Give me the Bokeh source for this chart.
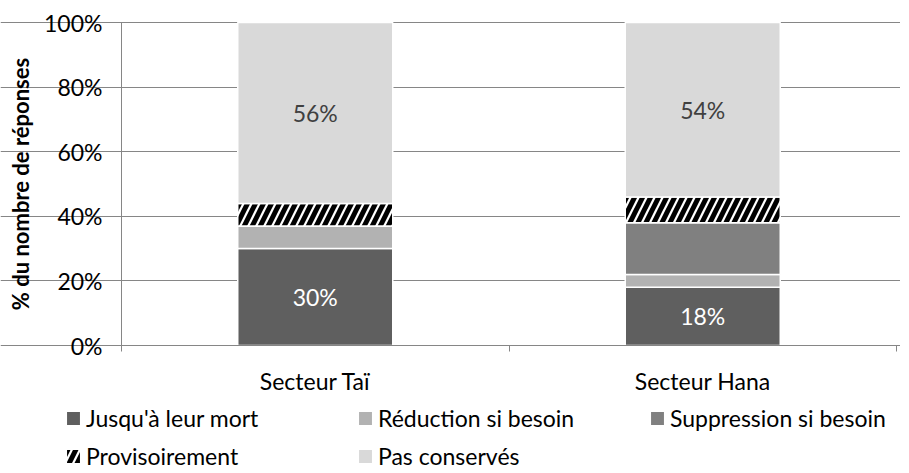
from bokeh.plotting import figure
from bokeh.models import (ColumnDataSource, FixedTicker, NumeralTickFormatter, Range1d,
                          Legend, LegendItem, LinearAxis, Grid)
from bokeh.core.properties import value
from bokeh.embed import file_html
from bokeh.resources import INLINE

categories = ["Secteur Taï", "Secteur Hana"]
series = ["Jusqu'à leur mort", "Réduction si besoin", "Suppression si besoin",
          "Provisoirement", "Pas conservés"]
jusqua = [30, 18]
reduction = [7, 4]
suppression = [0, 16]
provisoire = [7, 8]
pas_conserves = [56, 54]
tick_vals = [0, 0.2, 0.4, 0.6, 0.8, 1.0]

values = [jusqua, reduction, suppression, provisoire, pas_conserves]
colors = ["#5f5f5f", "#b2b2b2", "#808080", "#ffffff", "#d9d9d9"]
hatches = [" ", " ", " ", "/", " "]

FONT = "Lato"
FS = "23px"
ncat = len(categories)
xpos = [i + 0.5 for i in range(ncat)]

# layout (pixels inside the figure): plot area and canvas size
W, H = 900, 469
left_px, right_px, top_px, bottom_px = 121, 896, 22, 345
xs = (right_px - left_px) / ncat
ys = (bottom_px - top_px) / 1.0
x_range = Range1d(-left_px / xs, ncat + (W - right_px) / xs)
y_range = Range1d(-(H - bottom_px) / ys, 1 + top_px / ys)

p = figure(width=W, height=H, output_backend="svg", toolbar_location=None,
           x_range=x_range, y_range=y_range, x_axis_type=None, y_axis_type=None)
p.min_border = 0
p.min_border_left = p.min_border_right = p.min_border_top = p.min_border_bottom = 0
p.outline_line_color = None

p.add_layout(Grid(dimension=1, ticker=FixedTicker(ticks=tick_vals), bounds=(0, ncat),
                  grid_line_color="#868686", grid_line_width=1), "center")

bar_style = dict(line_color="white", line_width=1.5, hatch_color="black",
                 hatch_scale=16, hatch_weight=5)

bottoms = [0.0] * ncat
renderers = []
for name, vals, col, hatch in zip(series, values, colors, hatches):
    tops = [b + v / 100 for b, v in zip(bottoms, vals)]
    src = ColumnDataSource(dict(x=xpos, bottom=list(bottoms), top=tops))
    r = p.vbar(x="x", bottom="bottom", top="top", width=0.4, source=src,
               fill_color=col, hatch_pattern=hatch, **bar_style)
    renderers.append(r)
    bottoms = tops

# data labels
lab_x, lab_y, lab_t, lab_c = [], [], [], []
bottoms = [0.0] * ncat
for si, vals in enumerate(values):
    for ci, v in enumerate(vals):
        if si in (0, 4):
            lab_x.append(xpos[ci])
            lab_y.append(bottoms[ci] + v / 200)
            lab_t.append(f"{v}%")
            lab_c.append("white" if si == 0 else "#404040")
    bottoms = [b + v / 100 for b, v in zip(bottoms, vals)]
p.text(x=lab_x, y=lab_y, text=lab_t, text_color=lab_c, text_align="center",
       text_baseline="middle", text_font=value(FONT), text_font_size=FS)

# axes, pinned at the data origin
yaxis = LinearAxis(fixed_location=0, bounds=(0, 1), ticker=FixedTicker(ticks=tick_vals),
                   formatter=NumeralTickFormatter(format="0%"))
yaxis.axis_label = "% du nombre de réponses"
yaxis.axis_label_text_font = FONT
yaxis.axis_label_text_font_style = "bold"
yaxis.axis_label_text_font_size = "22px"
yaxis.axis_label_text_color = "black"
yaxis.axis_label_standoff = 7
yaxis.major_label_text_font = FONT
yaxis.major_label_text_font_size = FS
yaxis.major_label_text_color = "black"
yaxis.major_label_standoff = 13
yaxis.axis_line_color = "#868686"
yaxis.major_tick_line_color = "#868686"
yaxis.major_tick_out = 6
yaxis.major_tick_in = 0
yaxis.minor_tick_line_color = None
p.add_layout(yaxis, "left")

xaxis = LinearAxis(fixed_location=0, bounds=(0, ncat),
                   ticker=FixedTicker(ticks=xpos, minor_ticks=list(range(ncat + 1))))
xaxis.major_label_overrides = {x: c for x, c in zip(xpos, categories)}
xaxis.major_label_text_font = FONT
xaxis.major_label_text_font_size = FS
xaxis.major_label_text_color = "black"
xaxis.major_label_standoff = 15
xaxis.axis_line_color = "#868686"
xaxis.major_tick_line_color = None
xaxis.major_tick_out = 0
xaxis.major_tick_in = 0
xaxis.minor_tick_line_color = "#868686"
xaxis.minor_tick_out = 6
xaxis.minor_tick_in = 0
p.add_layout(xaxis, "below")

# legend: 3-column grid below the plot area
col_step, row_step = 292, 38
for i, (name, r) in enumerate(zip(series, renderers)):
    row, c = divmod(i, 3)
    legend = Legend(items=[LegendItem(label=name, renderers=[r])],
                    label_text_font=FONT, label_text_font_size=FS,
                    label_text_color="black", glyph_width=18, glyph_height=18,
                    label_standoff=4, spacing=0, padding=0, margin=0,
                    label_height=20,
                    border_line_color=None, background_fill_alpha=0,
                    location=(64 + c * col_step, 37 - row * row_step))
    p.add_layout(legend, "center")

open("out.html", "w").write(file_html(p, INLINE))
